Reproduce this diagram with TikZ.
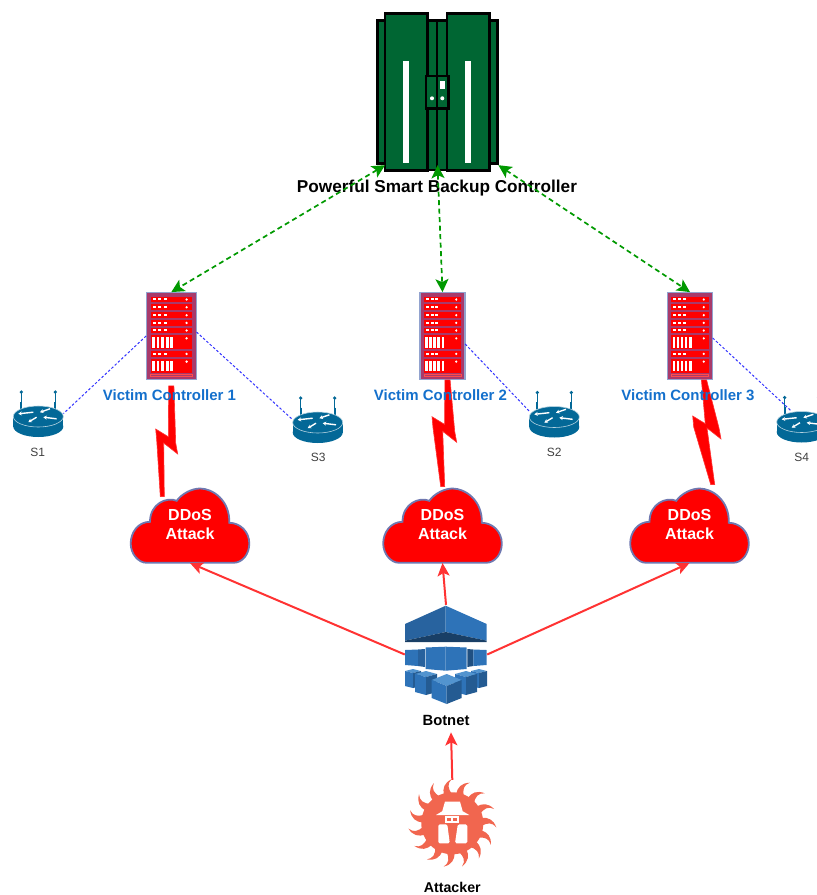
\documentclass[tikz,border=0pt]{standalone}
\usepackage{fontspec}
\setmainfont{Liberation Sans}
\usetikzlibrary{arrows.meta,calc}

\definecolor{backupgreen}{HTML}{006633}
\definecolor{linkgreen}{HTML}{009900}
\definecolor{linkblue}{HTML}{3333FF}
\definecolor{linkred}{HTML}{FF3333}
\definecolor{rackbody}{HTML}{A83A6B}
\definecolor{rackedge}{HTML}{92A3CF}
\definecolor{cloudedge}{HTML}{6F78B0}
\definecolor{victimblue}{HTML}{1470CC}
\definecolor{routerblue}{HTML}{036897}
\definecolor{cubemid}{HTML}{2E73B8}
\definecolor{cubedark}{HTML}{205081}
\definecolor{cubelight}{HTML}{5294CF}
\definecolor{cubeunder}{HTML}{193F66}
\definecolor{attackerred}{HTML}{F1664F}

\tikzset{
	iconbox/.style={rectangle, inner sep=0, minimum width=#1},
	blacklabel/.style={font=\fontsize{15}{18}\selectfont\bfseries, text=black, inner sep=0},
	victimlabel/.style={font=\fontsize{15}{18}\selectfont\bfseries, text=victimblue, inner sep=0},
	switchlabel/.style={font=\fontsize{12}{14}\selectfont, text=black!75, inner sep=0},
	cloudlabel/.style={font=\fontsize{16}{19.5}\selectfont\bfseries, text=white, align=center, inner sep=0},
	backuplink/.style={linkgreen, line width=1.7pt, dash pattern=on 5pt off 3.5pt, {Stealth[length=13pt,width=13pt,inset=3pt]}-{Stealth[length=13pt,width=13pt,inset=3pt]}},
	switchlink/.style={linkblue, line width=1pt, dash pattern=on 2.5pt off 2pt},
	attacklink/.style={linkred, line width=2pt, -{Stealth[length=13pt,width=12pt,inset=3pt]}},
	boltline/.style={fill=red, draw=linkred, line width=0.6pt, line join=miter},
	backuppart/.style={fill=backupgreen, draw=black, line width=2.6pt},
	pics/rackicon/.style={code={
		\draw[fill=rackbody, draw=rackedge, line width=1.5pt] (-25,-43.7) rectangle (25,43.7);
		\foreach \rowy in {-39.4,-31.7,-23.7,-16,-8.4,15}{
			\fill[red] (-20.6,\rowy) rectangle (20.6,\rowy+5.7);
			\foreach \dotx in {-17,-11.5,-6.3}
				\fill[white] (\dotx-1.5,\rowy+1.8) rectangle (\dotx+1.5,\rowy+3.6);
			\fill[white] (15.3,\rowy+2.9) circle (1.3);
		}
		\foreach \rowy in {-0.7,22.6}{
			\fill[red] (-20.6,\rowy) rectangle (20.6,\rowy+14);
			\foreach \dotx in {-18,-13.4,-8.8,-4.2,0.4}
				\fill[white] (\dotx-1.4,\rowy+2) rectangle (\dotx+1.4,\rowy+12.5);
			\fill[white] (15.3,\rowy+3) circle (1.3);
		}
		\draw[red!70!white, line width=0.7pt] (-20.6,38) rectangle (20.6,40.6);
	}},
	pics/routericon/.style={code={
		\foreach \antx in {-17,17}{
			\draw[routerblue, line width=1.3pt] (\antx,-21) -- (\antx,-6);
			\draw[routerblue, line width=2.2pt] (\antx,-12) -- (\antx,-3);
			\fill[routerblue] (\antx,-21.5) circle (1.8);
		}
		\fill[routerblue] (-25,3) rectangle (25,13);
		\fill[routerblue] (0,13) ellipse (25 and 10.5);
		\draw[fill=routerblue, draw=white!70!routerblue, line width=0.6pt] (0,3) ellipse (25 and 10.5);
		\begin{scope}[shift={(0,3)}, white, line width=1.4pt, -{Stealth[length=3.5pt,width=4pt]}]
			\draw (-5,-4.3) -- (-20,-2.7);
			\draw (-1.7,0.7) -- (-10,5.7);
			\draw (11.7,-7.7) -- (1.7,-4.3);
			\draw (18.3,2.3) -- (5,0.7);
		\end{scope}
	}},
	pics/cloudicon/.style={code={
		\draw[fill=red, draw=cloudedge, line width=1.8pt] (-43.3,37.3) -- (43.3,37.3)
		.. controls (53,37.3) and (59.3,28) .. (59.3,18)
		.. controls (59.3,6) and (50,-2.7) .. (39.3,-2.7)
		.. controls (40,-25) and (23,-37) .. (10,-37)
		.. controls (2,-37) and (-8,-32) .. (-13.3,-24.7)
		.. controls (-23,-29) and (-40,-22) .. (-40,-3.7)
		.. controls (-52,-3.7) and (-59.3,7) .. (-59.3,18)
		.. controls (-59.3,28) and (-52,37.3) .. (-43.3,37.3) -- cycle;
	}}
}

\newcommand{\boltlink}[4]{
	\draw[boltline] ($(#1)+(2.6,0)$) -- ($(#3)+(-2,-11)$) -- (#3) -- ($(#3)+(-14,-11)$) -- ($(#4)+(2,0)$) -- ($(#4)+(-2,0)$) -- ($(#2)+(1,11)$) -- (#2) -- ($(#2)+(12.6,7.7)$) -- ($(#1)+(-2.6,0)$) -- cycle;
}
\newcommand{\cubeicon}[5]{
	\fill[cubelight] (#1,#2) -- (#1+#3,#2+#4) -- (#1,#2+2*#4) -- (#1-#3,#2+#4) -- cycle;
	\fill[cubemid] (#1-#3,#2+#4) -- (#1,#2+2*#4) -- (#1,#2+2*#4+#5) -- (#1-#3,#2+#4+#5) -- cycle;
	\fill[cubedark!70!cubemid] (#1+#3,#2+#4) -- (#1,#2+2*#4) -- (#1,#2+2*#4+#5) -- (#1+#3,#2+#4+#5) -- cycle;
}

\begin{document}
\begin{tikzpicture}[x=1pt,y=-1pt]
	
	\clip (0,0) rectangle (817,895);
	
	% Backup controller
	
	\node[iconbox=119.5, minimum height=152] (backup) at (437.5,89) {};
	\draw[backuppart] (377.5,20.7) rectangle (497.3,163.3);
	\draw[backuppart] (427.3,20.7) rectangle (447,170);
	\draw[black, line width=2.6pt] (437,20.7) -- (437,170);
	\draw[backuppart] (385,13.3) rectangle (427.3,170.7);
	\draw[backuppart] (447,13.3) rectangle (489.3,170.7);
	\fill[white] (403.3,60.7) rectangle (409.3,162.7);
	\fill[white] (465.3,60.7) rectangle (471.3,162.7);
	\draw[fill=backupgreen, draw=black, line width=2.4pt] (426,76) rectangle (448.3,108.3);
	\draw[black, line width=2.4pt] (437,76) -- (437,108.3);
	\fill[white] (440,81) rectangle (444.7,89);
	\fill[white] (432,98.3) circle (2);
	\fill[white] (442.3,98.3) circle (2);
	\node[blacklabel, font=\fontsize{17.2}{20}\selectfont\bfseries] (backuplabel) at (437,188.5) {Powerful Smart Backup Controller};
	
	% Controllers
	
	\node[iconbox=50, minimum height=87.4] (ctrl1) at (171.3,336) {};
	\node[iconbox=45, minimum height=87.4] (ctrl2) at (442.5,336) {};
	\node[iconbox=45, minimum height=87.4] (ctrl3) at (690,336) {};
	\pic at (ctrl1) {rackicon};
	\pic[xscale=0.9] at (ctrl2) {rackicon};
	\pic[xscale=0.9] at (ctrl3) {rackicon};
	
	% Switches
	
	\node[iconbox=50, minimum height=47] (s1) at (38.3,413.5) {};
	\node[iconbox=50, minimum height=47] (s2) at (554.3,414) {};
	\node[iconbox=50, minimum height=47] (s3) at (317.7,419.5) {};
	\node[iconbox=50, minimum height=47] (s4) at (801.7,419) {};
	\foreach \swname in {s1,s2,s3,s4}
		\pic at (\swname) {routericon};
	\node[switchlabel] (s1label) at (37.8,452.5) {S1};
	\node[switchlabel] (s2label) at (554.3,452) {S2};
	\node[switchlabel] (s3label) at (318.3,457.5) {S3};
	\node[switchlabel] (s4label) at (801.7,457.5) {S4};
	
	% Clouds
	
	\node[iconbox=118, minimum height=74.6] (cloud1) at (190,525.5) {};
	\node[iconbox=118, minimum height=74.6] (cloud2) at (442.5,525.5) {};
	\node[iconbox=118, minimum height=74.6] (cloud3) at (689.5,525.5) {};
	\foreach \cloudname in {cloud1,cloud2,cloud3}
		\pic at (\cloudname) {cloudicon};
	\node[cloudlabel] (attack1) at (190,524.5) {DDoS\\Attack};
	\node[cloudlabel] (attack2) at (442.5,524.5) {DDoS\\Attack};
	\node[cloudlabel] (attack3) at (689.5,524.5) {DDoS\\Attack};
	
	% Botnet
	
	\node[iconbox=82, minimum height=99] (botnet) at (446,654.5) {};
	\fill[cubedark!45!cubemid] (405,624) -- (445.7,605.7) -- (445.7,632) -- (405,640.7) -- cycle;
	\fill[cubemid] (486.7,624) -- (445.7,605.7) -- (445.7,632) -- (486.7,640.7) -- cycle;
	\fill[cubeunder] (405,640.7) -- (445.7,632) -- (486.7,640.7) -- (486.7,642) -- (405,642) -- cycle;
	\fill[cubemid] (405,650) -- (418,649.5) -- (418,666) -- (405,665) -- cycle;
	\fill[cubedark!50!cubemid] (418,649.5) -- (425,649) -- (425,667) -- (418,666) -- cycle;
	\fill[cubemid] (425.7,647.5) -- (445.7,646.7) -- (445.7,670.7) -- (425.7,669) -- cycle;
	\fill[cubemid] (466.7,647.5) -- (445.7,646.7) -- (445.7,670.7) -- (466.7,669) -- cycle;
	\fill[cubedark] (467.3,649) -- (473.3,649.5) -- (473.3,666) -- (467.3,667) -- cycle;
	\fill[cubemid] (473.3,649.5) -- (486.7,650) -- (486.7,665) -- (473.3,666) -- cycle;
	\cubeicon{413}{669}{8}{2}{15}
	\cubeicon{479}{669}{8}{2}{15}
	\cubeicon{426}{671}{11}{3}{18}
	\cubeicon{466}{671}{11}{3}{18}
	\cubeicon{446.7}{674}{15}{6}{18}
	\node[blacklabel, font=\fontsize{14.8}{18}\selectfont\bfseries] (botnetlabel) at (446,720) {Botnet};
	
	% Attacker
	
	\node[iconbox=86, minimum height=86] (attacker) at (452.3,823) {};
	\begin{scope}[shift={(452.3,823.3)}]
		\fill[attackerred] (0,0) circle (31);
		\foreach \raya in {0,24,...,336}
			\fill[attackerred, rotate=\raya] (29,-5.5) .. controls (36,-6) and (41,-4) .. (44,4) .. controls (40,-1) and (35,-1) .. (29,3) -- cycle;
		\fill[white] (-7.3,-21.7) -- (7.7,-21.7) -- (10.3,-12.3) -- (-10,-12.3) -- cycle;
		\fill[white] (-16.3,-8.3) -- (-9,-12.7) -- (9.3,-12.7) -- (17,-8.3) -- cycle;
		\fill[white] (-7,-7.5) rectangle (7,0);
		\fill[attackerred] (-5,-5.5) rectangle (-1,-2);
		\fill[attackerred] (1,-5.5) rectangle (5,-2);
		\fill[white, rounded corners=1.5pt] (-14,1) -- (-5,1) -- (-2.5,20) -- (-14,20) -- cycle;
		\fill[white, rounded corners=1.5pt] (15,1) -- (5.5,1) -- (2.7,20) -- (15,20) -- cycle;
	\end{scope}
	\node[blacklabel, font=\fontsize{14.2}{18}\selectfont\bfseries] (attackerlabel) at (452.3,887.5) {Attacker};
	
	% Edges...
	
	\boltlink{[yshift=-6]ctrl1.south}{155.7,429}{177.7,454}{[shift={(-27.7,8.5)}]cloud1.north}
	\boltlink{[xshift=5]ctrl2.south}{432,416.7}{456.7,442.3}{[shift={(0.2,-1.5)}]cloud2.north}
	\boltlink{[xshift=14]ctrl3.south}{692.7,416}{721,439}{[shift={(23.2,-3.5)}]cloud3.north}
	
	\draw[backuplink] ([xshift=7.5]backup.south west) -- (ctrl1.north);
	\draw[backuplink] (backup.south) -- (ctrl2.north);
	\draw[backuplink] ([xshift=1]backup.south east) -- (ctrl3.north);
	
	\draw[switchlink] (ctrl1.west) -- (s1.east);
	\draw[switchlink] ([yshift=4]ctrl1.east) -- (s3.west);
	\draw[switchlink] ([yshift=-8]ctrl2.east) -- ([yshift=3]s2.west);
	\draw[switchlink] ([yshift=-2]ctrl3.east) -- ([shift={(14,15)}]s4.north west);
	
	\draw[attacklink] (botnet.west) -- (cloud1.south);
	\draw[attacklink] (botnet.north) -- (cloud2.south);
	\draw[attacklink] (botnet.east) -- (cloud3.south);
	\draw[attacklink] (attacker.north) -- ([shift={(5,7)}]botnetlabel.south);
	
	% Labels over the edges
	
	\node[victimlabel] (victim1) at (169.5,395) {Victim Controller 1};
	\node[victimlabel] (victim2) at (440.5,395) {Victim Controller 2};
	\node[victimlabel] (victim3) at (688,395) {Victim Controller 3};
	
\end{tikzpicture}
\end{document}
